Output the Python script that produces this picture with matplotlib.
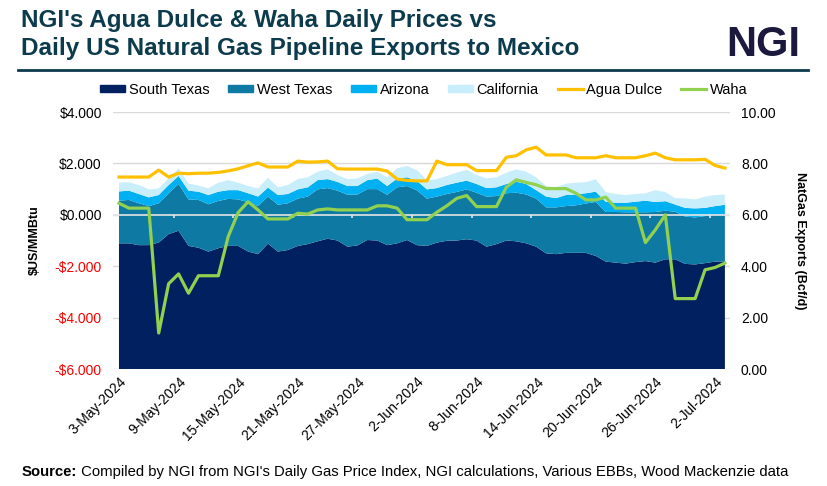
import numpy as np
import pandas as pd
import matplotlib
matplotlib.use("Agg")
import matplotlib.pyplot as plt
from matplotlib.patches import Patch
from matplotlib.lines import Line2D

plt.rcParams['font.family'] = ['Liberation Sans', 'DejaVu Sans']

# daily dates, 3-May-2024 .. 3-Jul-2024
dates = pd.date_range("2024-05-03", "2024-07-03", freq="D")

# pipeline exports to Mexico, Bcf/d (stacked)
south_texas = [4.89, 4.89, 4.82, 4.82, 4.92, 5.25, 5.38, 4.79, 4.72, 4.57,
               4.70, 4.79, 4.79, 4.57, 4.47, 4.88, 4.57, 4.63, 4.79, 4.86,
               4.97, 5.07, 5.00, 4.76, 4.81, 5.02, 5.00, 4.82, 4.89, 5.02,
               4.82, 4.79, 4.92, 4.99, 5.00, 5.05, 5.00, 4.76, 4.86, 5.00,
               4.97, 4.89, 4.76, 4.50, 4.47, 4.52, 4.52, 4.52, 4.40, 4.18,
               4.14, 4.10, 4.16, 4.20, 4.14, 4.27, 4.27, 4.09, 4.07, 4.12,
               4.18, 4.18]
west_texas = [1.66, 1.69, 1.63, 1.52, 1.53, 1.59, 1.82, 1.81, 1.86, 1.84,
              1.84, 1.83, 1.81, 1.92, 1.87, 1.83, 1.82, 1.82, 1.84, 1.85,
              2.02, 1.97, 1.94, 2.02, 1.98, 1.98, 2.00, 1.96, 2.18, 2.10,
              2.13, 1.84, 1.79, 1.82, 1.89, 1.94, 1.86, 1.95, 1.87, 1.84,
              1.89, 1.90, 1.87, 1.79, 1.82, 1.82, 1.85, 1.92, 2.10, 1.93,
              1.97, 2.00, 1.94, 1.90, 1.97, 1.89, 1.85, 1.84, 1.83, 1.83,
              1.84, 1.84]
arizona = [0.36, 0.36, 0.36, 0.34, 0.32, 0.32, 0.31, 0.34, 0.32, 0.36,
           0.36, 0.34, 0.36, 0.35, 0.37, 0.35, 0.38, 0.36, 0.36, 0.36,
           0.36, 0.35, 0.34, 0.34, 0.33, 0.35, 0.41, 0.34, 0.34, 0.34,
           0.37, 0.36, 0.33, 0.35, 0.36, 0.34, 0.34, 0.33, 0.34, 0.36,
           0.43, 0.41, 0.33, 0.42, 0.36, 0.43, 0.42, 0.40, 0.40, 0.40,
           0.36, 0.37, 0.41, 0.45, 0.39, 0.37, 0.28, 0.34, 0.35, 0.32,
           0.32, 0.37]
california = [0.34, 0.33, 0.35, 0.31, 0.26, 0.26, 0.30, 0.28, 0.24, 0.26,
              0.35, 0.39, 0.29, 0.28, 0.32, 0.38, 0.30, 0.35, 0.40, 0.39,
              0.33, 0.38, 0.27, 0.27, 0.30, 0.24, 0.27, 0.34, 0.40, 0.44,
              0.42, 0.36, 0.35, 0.35, 0.39, 0.42, 0.35, 0.38, 0.39, 0.44,
              0.48, 0.48, 0.50, 0.41, 0.42, 0.44, 0.46, 0.43, 0.49, 0.38,
              0.34, 0.30, 0.30, 0.29, 0.46, 0.36, 0.25, 0.37, 0.35, 0.44,
              0.43, 0.40]

# daily prices, $US/MMBtu
agua_dulce = [1.47, 1.47, 1.47, 1.47, 1.74, 1.47, 1.62, 1.60, 1.62, 1.62,
              1.65, 1.71, 1.79, 1.91, 2.02, 1.86, 1.86, 1.86, 2.09, 2.05,
              2.06, 2.09, 1.79, 1.78, 1.78, 1.78, 1.78, 1.70, 1.39, 1.34,
              1.32, 1.32, 2.09, 1.95, 1.95, 1.95, 1.72, 1.72, 1.72, 2.24,
              2.30, 2.53, 2.63, 2.33, 2.33, 2.33, 2.22, 2.22, 2.22, 2.30,
              2.22, 2.22, 2.22, 2.30, 2.40, 2.22, 2.14, 2.14, 2.14, 2.16,
              1.92, 1.82]
waha = [0.45, 0.26, 0.26, 0.26, -4.60, -2.68, -2.30, -3.05, -2.37, -2.37,
        -2.37, -0.84, 0.09, 0.51, 0.19, -0.16, -0.16, -0.16, 0.06, 0.03,
        0.19, 0.23, 0.19, 0.19, 0.19, 0.19, 0.35, 0.35, 0.26, -0.19,
        -0.19, -0.19, 0.10, 0.35, 0.64, 0.75, 0.32, 0.32, 0.32, 1.08,
        1.36, 1.26, 1.17, 1.02, 1.02, 1.02, 0.84, 0.58, 0.58, 0.69,
        0.26, 0.26, 0.26, -1.08, -0.58, 0.00, -3.26, -3.26, -3.26, -2.14,
        -2.05, -1.88]

c_st, c_wt, c_az, c_ca = "#002060", "#0E79A2", "#00B0F0", "#C9EEFB"
c_ad, c_wa = "#FFC000", "#92D050"
title_col = "#0B3B4C"

x = np.arange(len(dates))
labels = [f"{d.day}-{d:%b-%Y}" for d in dates]

fig = plt.figure(figsize=(8.28, 4.86), dpi=100)
ax = fig.add_axes([0.1365, 0.2407, 0.745, 0.5288])
ax2 = ax.twinx()

# exports on the right axis, drawn underneath
ax2.stackplot(x, south_texas, west_texas, arizona, california,
              colors=[c_st, c_wt, c_az, c_ca], linewidth=0)
ax2.set_ylim(0, 10)
ax2.set_yticks(np.arange(0, 11, 2))
ax2.set_yticklabels([f"{v:.2f}" for v in np.arange(0, 11, 2)], fontsize=10)
ax2.grid(axis='y', color="#D9D9D9", linewidth=1)
ax2.set_axisbelow(True)
ax2.tick_params(axis='y', length=0, pad=8)
ax2.set_ylabel("NatGas Exports (Bcf/d)", rotation=270, fontsize=9,
               fontweight='bold', labelpad=22)

# prices on the left axis, on top
ax.set_zorder(ax2.get_zorder() + 1)
ax.patch.set_visible(False)
ax.axhline(0, color="#E6E6E6", linewidth=1.2, zorder=1)
ticks = np.arange(5.5, len(x) - 1, 6)
ax.vlines(ticks, -0.12, 0, color="#E6E6E6", linewidth=1.2, zorder=1)
ax.plot(x, agua_dulce, color=c_ad, linewidth=2.3, zorder=3)
ax.plot(x, waha, color=c_wa, linewidth=2.3, zorder=3)
ax.set_ylim(-6, 4)
yt = np.arange(-6, 5, 2)
ax.set_yticks(yt)
ax.set_yticklabels([f"${v:.3f}" if v >= 0 else f"-${-v:.3f}" for v in yt],
                   fontsize=10)
for t, v in zip(ax.get_yticklabels(), yt):
    t.set_color('red' if v < 0 else 'black')
ax.tick_params(axis='y', length=0, pad=8)
ax.set_ylabel("$US/MMBtu", fontsize=9, fontweight='bold', labelpad=10)

ax.set_xlim(-0.6, len(x) - 0.5)
ax.set_xticks(x[::6])
ax.set_xticklabels(labels[::6], rotation=45, ha='right',
                   rotation_mode='anchor', fontsize=10)
ax.tick_params(axis='x', length=0, pad=4)
for a in (ax, ax2):
    for s in a.spines.values():
        s.set_visible(False)

# legend
handles = [Patch(color=c_st), Patch(color=c_wt), Patch(color=c_az),
           Patch(color=c_ca), Line2D([], [], color=c_ad, lw=2.3),
           Line2D([], [], color=c_wa, lw=2.3)]
names = ["South Texas", "West Texas", "Arizona", "California",
         "Agua Dulce", "Waha"]
fig.legend(handles, names, loc='center', bbox_to_anchor=(0.512, 0.815),
           ncol=6, frameon=False, fontsize=10.5, handlelength=1.7,
           handleheight=0.42, handletextpad=0.25, columnspacing=1.3)

# title block
fig.text(0.025, 0.9444, "NGI's Agua Dulce & Waha Daily Prices vs",
         fontsize=17.5, fontweight='bold', color=title_col, va='baseline')
fig.text(0.025, 0.8868, "Daily US Natural Gas Pipeline Exports to Mexico",
         fontsize=17.5, fontweight='bold', color=title_col, va='baseline')
fig.text(0.966, 0.885, "NGI", fontsize=30, fontweight='bold',
         color="#1B1A3E", ha='right', va='baseline')
fig.add_artist(Line2D([0.022, 0.976], [0.856, 0.856], color=title_col,
                      linewidth=2))

# source line: bold lead-in, then the rest right after it
src = fig.text(0.026, 0.021, "Source:", fontsize=10.7, fontweight='bold',
               va='baseline')
fig.add_artist(plt.Annotation(" Compiled by NGI from NGI's Daily Gas Price "
                              "Index, NGI calculations, Various EBBs, Wood "
                              "Mackenzie data", xy=(1, 0), xycoords=src,
                              va='bottom', fontsize=10.7))

fig.savefig("out.png", dpi=100)
